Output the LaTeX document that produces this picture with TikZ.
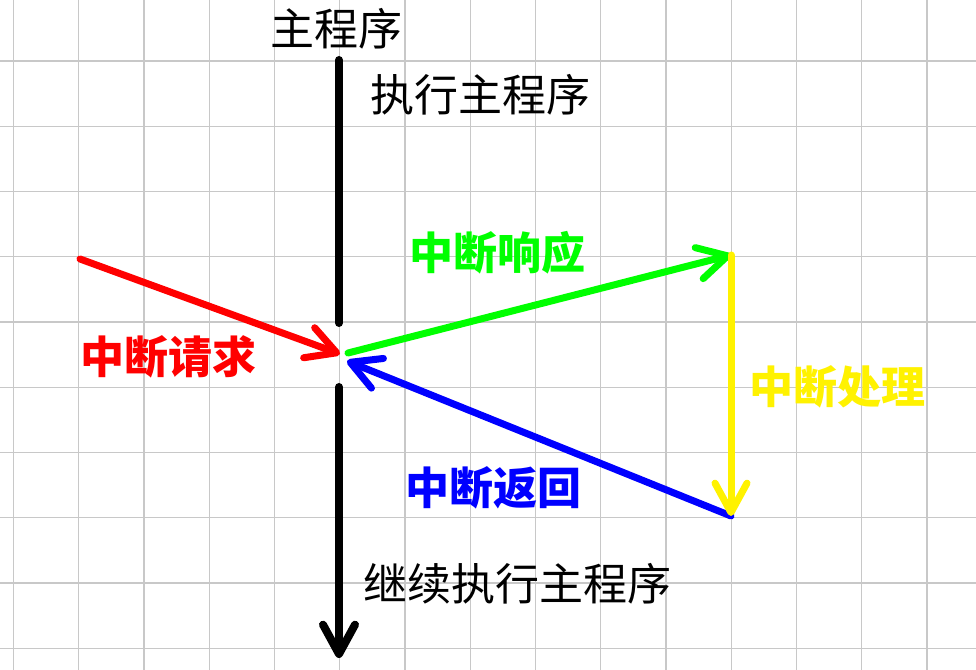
\documentclass[tikz,border=0pt]{standalone}
\usepackage{fontspec}
\newfontfamily\cjk{Noto Sans CJK SC}
\usetikzlibrary{arrows.meta}

\begin{document}
\begin{tikzpicture}[x=0.75pt,y=0.75pt,yscale=-1,xscale=1,
  gridline/.style={draw={rgb,255:red,200;green,200;blue,200},line width=1.1pt},
  flow/.style={line width=5.25pt,line cap=round,
    -{Straight Barb[round,length=22pt,width=24pt]}},
  label/.style={inner sep=0.75pt,font=\cjk\fontsize{33}{33}\selectfont},
  tag/.style={label,font=\cjk\bfseries\fontsize{33}{33}\selectfont}]
\useasboundingbox (0,0) rectangle (976,670);
\fill[white] (0,0) rectangle (976,670);

%Grid
\foreach \i in {0,...,14}
  \draw[gridline] (13.5+65.25*\i,0) -- (13.5+65.25*\i,670);
\foreach \j in {0,...,9}
  \draw[gridline] (0,61+65.25*\j) -- (976,61+65.25*\j);

%Points
\coordinate (mtop) at (339,60);
\coordinate (mgap) at (339,323);
\coordinate (mres) at (339,387);
\coordinate (mend) at (339,658);
\coordinate (src) at (80,259);
\coordinate (hit) at (340,354);
\coordinate (out) at (348,353);
\coordinate (top) at (731,255);
\coordinate (bot) at (731,516);
\coordinate (back) at (347,361);

%Main program line
\draw[line width=6pt,line cap=round] (mtop) -- (mgap);
\draw[flow,line width=6pt] (mres) -- (mend);
%Interrupt request
\draw[flow,red] (src) -- (hit);
%Interrupt response
\draw[flow,green] (out) -- (top);
%Interrupt return
\draw[flow,blue] (bot) -- (back);
%Interrupt service
\draw[flow,yellow] (top) -- (bot);

% Text Node
\node[label] (main) at (336,29) {主程序};
% Text Node
\node[label] (exec) at (480,95) {执行主程序};
% Text Node
\node[tag,green] (resp) at (497,253) {中断响应};
% Text Node
\node[tag,red] (req) at (168,357) {中断请求};
% Text Node
\node[tag,yellow] (isr) at (837,387) {中断处理};
% Text Node
\node[tag,blue] (ret) at (493,488) {中断返回};
% Text Node
\node[label] (cont) at (517,584) {继续执行主程序};

\end{tikzpicture}
\end{document}
